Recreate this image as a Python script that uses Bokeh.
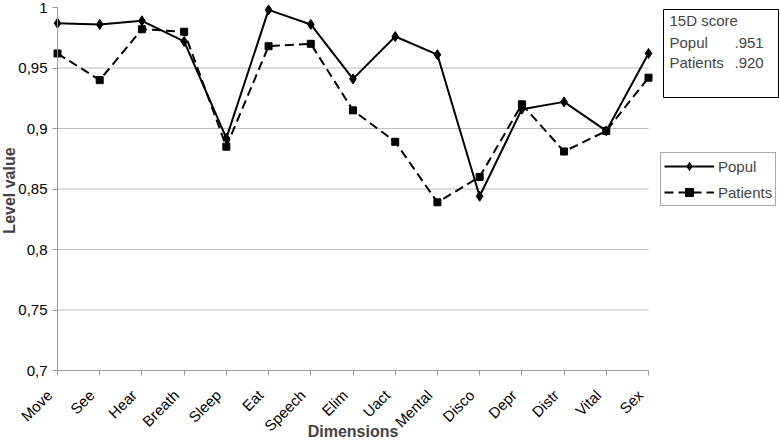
import math
from bokeh.plotting import figure
from bokeh.core.properties import value
from bokeh.models import FixedTicker, Legend, LegendItem, Label, BoxAnnotation, Range1d
from bokeh.embed import file_html
from bokeh.resources import INLINE

categories = ["Move", "See", "Hear", "Breath", "Sleep", "Eat", "Speech", "Elim",
              "Uact", "Mental", "Disco", "Depr", "Distr", "Vital", "Sex"]
popul = [0.987, 0.986, 0.989, 0.972, 0.892, 0.998, 0.986, 0.941, 0.976, 0.961,
         0.844, 0.916, 0.922, 0.898, 0.962]
patients = [0.962, 0.940, 0.982, 0.980, 0.885, 0.968, 0.970, 0.915, 0.889, 0.839,
            0.860, 0.920, 0.881, 0.898, 0.942]
y_ticks = [0.7, 0.75, 0.8, 0.85, 0.9, 0.95, 1.0]
y_tick_labels = ["0,7", "0,75", "0,8", "0,85", "0,9", "0,95", "1"]
series_names = ["Popul", "Patients"]
score_title = "15D score"
score_values = [".951", ".920"]
x_title = "Dimensions"
y_title = "Level value"

FONT = "Liberation Sans"
AXIS_GRAY = "#9a9a9a"
GRID_GRAY = "#bcbcbc"
x = list(range(len(categories)))
last = len(categories) - 1
y_lo, y_hi = y_ticks[0], y_ticks[-1]

# ---- canvas geometry (pixels) -> data ranges; the frame fills the canvas
W, H = 780, 443
PX_X_FIRST, PX_X_LAST = 57, 648       # where the first / last category sit
PX_Y_LO, PX_Y_HI = 370, 7             # where 0.7 / 1.0 sit
UX = (PX_X_LAST - PX_X_FIRST) / last
UY = (PX_Y_LO - PX_Y_HI) / (y_hi - y_lo)
X_START = -PX_X_FIRST / UX
X_END = last + (W - PX_X_LAST) / UX
Y_END = y_hi + PX_Y_HI / UY
Y_START = y_lo - (H - PX_Y_LO) / UY


def dx(px):
    return X_START + px / UX


def dy(py):
    return Y_END - py / UY


p = figure(width=W, height=H, output_backend="svg", toolbar_location=None,
           x_range=Range1d(X_START, X_END), y_range=Range1d(Y_START, Y_END),
           min_border=0)
p.outline_line_color = None
p.background_fill_color = "white"
p.xgrid.grid_line_color = None
p.ygrid.grid_line_color = None

# x axis (fixed at 0.7); its labels are drawn as rotated text below
p.xaxis.fixed_location = y_lo
p.xaxis.ticker = FixedTicker(ticks=x)
p.xaxis.bounds = (0, last)
p.xaxis.major_label_overrides = {i: "" for i in x}

# y axis (fixed at first category)
p.yaxis.fixed_location = 0
p.yaxis.ticker = FixedTicker(ticks=y_ticks)
p.yaxis.bounds = (y_lo, y_hi)
p.yaxis.major_label_overrides = {v: t for v, t in zip(y_ticks, y_tick_labels)}
p.yaxis.major_label_standoff = 5

for ax in (p.xaxis, p.yaxis):
    ax.axis_line_color = AXIS_GRAY
    ax.major_tick_line_color = AXIS_GRAY
    ax.major_tick_out = 5
    ax.major_tick_in = 0
    ax.minor_tick_line_color = None
    ax.major_label_text_font = FONT
    ax.major_label_text_color = "black"
    ax.major_label_text_font_size = "15px"

# category labels, rotated 45 degrees, ending just below each tick
p.text(x=x, y=[y_lo] * len(x), text=categories, angle=math.pi / 4,
       x_offset=-8, y_offset=22, text_align="right", text_baseline="middle",
       text_font=value(FONT), text_font_size="15px", text_color="black")

# horizontal gridlines between the axis bounds
grid_y = y_ticks[1:-1]
p.segment(x0=[0] * len(grid_y), x1=[last] * len(grid_y), y0=grid_y, y1=grid_y,
          line_color=GRID_GRAY, line_width=1)

# axis titles
p.add_layout(Label(x=last / 2, y=dy(431), text=x_title, text_font=FONT,
                   text_font_size="16px", text_font_style="bold",
                   text_align="center", text_baseline="middle"))
p.add_layout(Label(x=dx(9), y=dy(190), text=y_title, text_font=FONT,
                   text_font_size="16px", text_font_style="bold",
                   text_align="center", text_baseline="middle", angle=math.pi / 2))

# series
LINE_STYLES = [dict(line_dash="solid"), dict(line_dash="9 5")]
MARKERS = [dict(marker="diamond", size=10), dict(marker="square", size=7)]
items = []
for name, vals, ls, mk in zip(series_names, [popul, patients], LINE_STYLES, MARKERS):
    rl = p.line(x, vals, line_color="black", line_width=2, **ls)
    rs = p.scatter(x, vals, color="black", **mk)
    items.append(LegendItem(label=name, renderers=[rl, rs]))

legend = Legend(items=items, location=(660, H - 206))
legend.border_line_color = "#555555"
legend.label_text_font = FONT
legend.label_text_font_size = "15px"
legend.glyph_width = 50
legend.label_standoff = 4
legend.padding = 3
legend.spacing = 6
legend.margin = 0
legend.background_fill_alpha = 1
p.add_layout(legend)

# score box
box = BoxAnnotation(left=dx(663), right=dx(778), top=dy(9), bottom=dy(97),
                    fill_color="white", fill_alpha=1, line_color="black",
                    line_alpha=1, line_width=1)
p.add_layout(box)
rows_y = [20, 42, 62]
p.add_layout(Label(x=dx(669), y=dy(rows_y[0]), text=score_title, text_font=FONT,
                   text_font_size="15px", text_baseline="middle"))
for name, val, yy in zip(series_names, score_values, rows_y[1:]):
    p.add_layout(Label(x=dx(669), y=dy(yy), text=name, text_font=FONT,
                       text_font_size="15px", text_baseline="middle"))
    p.add_layout(Label(x=dx(734), y=dy(yy), text=val, text_font=FONT,
                       text_font_size="15px", text_baseline="middle"))

open("out.html", "w").write(file_html(p, INLINE))
